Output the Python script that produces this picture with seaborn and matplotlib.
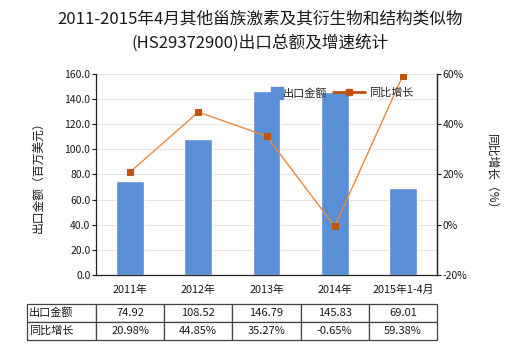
import matplotlib
matplotlib.use("Agg")
import matplotlib.pyplot as plt
from matplotlib.lines import Line2D
import seaborn as sns
import pandas as pd

# Data
categories = ["2011年", "2012年", "2013年", "2014年", "2015年1-4月"]
export_values = [74.92, 108.52, 146.79, 145.83, 69.01]
growth_rates = [20.98, 44.85, 35.27, -0.65, 59.38]
left_ticks = [0, 20, 40, 60, 80, 100, 120, 140, 160]
right_ticks = [-20, 0, 20, 40, 60]

sns.set_theme(style="white")
plt.rcParams["font.family"] = ["Noto Sans CJK SC", "DejaVu Sans"]
plt.rcParams["axes.unicode_minus"] = False

BAR_COLOR = "#5A8ED6"
LINE_COLOR = "#E8893E"
MARK_COLOR = "#C1510B"
TEXT = "#1a1a1a"

df = pd.DataFrame({"cat": categories, "value": export_values, "growth": growth_rates})

fig = plt.figure(figsize=(5.2, 3.5), dpi=100)
ax = fig.add_axes([0.1846, 0.2143, 0.6558, 0.5743])

sns.barplot(data=df, x="cat", y="value", color=BAR_COLOR, saturation=1,
            width=0.41, ax=ax, zorder=2)
ax.set_ylim(0, 160)
ax.set_yticks(left_ticks)
ax.set_yticklabels([f"{v:.1f}" for v in left_ticks], fontsize=7.5, color=TEXT)
ax.set_xlim(-0.5, len(categories) - 0.5)
ax.set_xlabel("")
ax.set_ylabel("出口金额（百万美元）", fontsize=8.5, color=TEXT, labelpad=14)
ax.tick_params(axis="x", labelsize=7.8, colors=TEXT, length=3, width=0.8, direction="out", pad=4)
ax.tick_params(axis="y", length=3, width=0.8, direction="out", pad=1, colors=TEXT)
ax.grid(axis="y", color="#e4e4e4", linewidth=0.8, zorder=0)
ax.set_axisbelow(True)
ax.spines["top"].set_visible(False)
for side in ["left", "bottom", "right"]:
    ax.spines[side].set_color("#222222")
    ax.spines[side].set_linewidth(0.9)

ax2 = ax.twinx()
sns.lineplot(data=df, x="cat", y="growth", sort=False, ax=ax2, color=LINE_COLOR,
             linewidth=1.0, marker="s", markersize=4.5, markerfacecolor=MARK_COLOR,
             markeredgecolor=MARK_COLOR, zorder=3)
ax2.set_ylim(-20, 60)
ax2.set_yticks(right_ticks)
ax2.set_yticklabels([f"{v}%" for v in right_ticks], fontsize=7.5, color=TEXT)
ax2.tick_params(axis="y", length=3, width=0.8, direction="out", pad=1, colors=TEXT)
ax2.set_ylabel("同比增长（%）", fontsize=8.5, color=TEXT, rotation=270, labelpad=22)
ax2.set_xlabel("")
for side in ["top", "left", "bottom"]:
    ax2.spines[side].set_visible(False)
ax2.spines["right"].set_color("#222222")
ax2.spines["right"].set_linewidth(0.9)

# Frameless legend entries: square key for the bars, line-with-marker key for growth
bar_key = Line2D([], [], linestyle="", marker="s", markersize=8,
                 markerfacecolor=BAR_COLOR, markeredgecolor=BAR_COLOR)
line_key = Line2D([], [], color=MARK_COLOR, linewidth=2.0, marker="s", markersize=4.5,
                  markerfacecolor=MARK_COLOR, markeredgecolor=MARK_COLOR)
leg1 = ax2.legend([bar_key], ["出口金额"], loc="center left",
                  bbox_to_anchor=(0.516, 0.905), frameon=False, fontsize=8,
                  handlelength=0.9, handletextpad=0.1, borderaxespad=0, borderpad=0)
ax2.add_artist(leg1)
ax2.legend([line_key], ["同比增长"], loc="center left",
           bbox_to_anchor=(0.695, 0.905), frameon=False, fontsize=8,
           handlelength=2.9, handletextpad=0.3, borderaxespad=0, borderpad=0)

fig.text(0.5, 0.946, "2011-2015年4月其他甾族激素及其衍生物和结构类似物", ha="center",
         va="center", fontsize=12, color=TEXT)
fig.text(0.5, 0.877, "(HS29372900)出口总额及增速统计", ha="center", va="center",
         fontsize=12, color=TEXT)

# Data table under the axis
rows = [["出口金额"] + [f"{v:.2f}" for v in export_values],
        ["同比增长"] + [f"{v:.2f}%" for v in growth_rates]]
first_w = 69 / 341
col_w = [first_w] + [1.0 / len(categories)] * len(categories)
tbl = ax.table(cellText=rows, colWidths=col_w, cellLoc="center",
               bbox=[-first_w, -0.323, 1 + first_w, 0.179])
tbl.auto_set_font_size(False)
for (r, c), cell in tbl.get_celld().items():
    cell.set_edgecolor("#444444")
    cell.set_linewidth(0.9)
    cell.set_facecolor("white")
    cell.get_text().set_fontsize(8)
    cell.get_text().set_color(TEXT)
    if c == 0:
        cell.get_text().set_ha("left")
        cell._loc = "left"
        cell.PAD = 0.03

fig.savefig("out.png", dpi=100)
